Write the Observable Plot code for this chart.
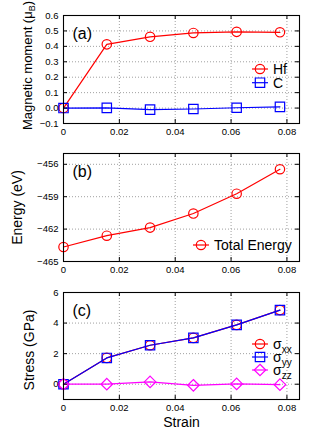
<!DOCTYPE html>
<html><head><meta charset="utf-8">
<script src="https://cdn.jsdelivr.net/npm/d3@7"></script>
<script src="https://cdn.jsdelivr.net/npm/@observablehq/plot@0.6"></script>
<style>
body{margin:0;background:#fff;}
#chart{width:316px;height:434px;overflow:hidden;}
#chart svg{display:block;}
</style></head><body><div id="chart"></div>
<script>
const strain = [0, 0.0155, 0.031, 0.0465, 0.062, 0.0775];
const momentHf = [0, 0.413, 0.462, 0.487, 0.494, 0.491];
const momentC = [0, 0.001, -0.01, -0.006, 0.002, 0.008];
const totalEnergy = [-463.66, -462.61, -461.86, -460.56, -458.72, -456.46];
const stressXX = [0, 1.72, 2.55, 3.03, 3.88, 4.85];
const stressYY = [0, 1.72, 2.55, 3.03, 3.88, 4.85];
const stressZZ = [0, 0, 0.15, -0.07, 0.02, -0.03];
const xTicks = [0, 0.02, 0.04, 0.06, 0.08];
const yTicksA = [-0.1, 0, 0.1, 0.2, 0.3, 0.4, 0.5, 0.6];
const yTicksB = [-465, -462, -459, -456];
const yTicksC = [0, 2, 4, 6];
const panelLabels = ["(a)", "(b)", "(c)"];
const yLabels = ["Magnetic moment (\u03bcB)", "Energy (eV)", "Stress (GPa)"];
const xLabel = "Strain";

const FONT = "'Liberation Sans', Arial, Helvetica, sans-serif";
const W = 316, ML = 63, MR = 17;
const FW = W - ML - MR;
const xFmt = d => d === 0 ? "0" : d.toFixed(2);

function rows(ys) { return strain.map((x, i) => ({x, y: ys[i]})); }

function series(ys, color, symbol, r) {
  return [
    Plot.line(rows(ys), {x: "x", y: "y", stroke: color, strokeWidth: 1.2}),
    Plot.dot(rows(ys), {x: "x", y: "y", stroke: color, fill: "none", strokeWidth: 1.2, symbol, r})
  ];
}

function panel({height, mt, mb, yDomain, yTicks, yFmt, marks, label, ylabel, ylFont, ylDx, ylDy, xlabel}) {
  const FH = height - mt - mb;
  const grid = {stroke: "#a0a0a0", strokeOpacity: 1, strokeDasharray: "1,2", strokeWidth: 1};
  const m = [
    Plot.gridX(xTicks, grid),
    Plot.gridY(yTicks, grid),
    ...marks,
    Plot.frame({stroke: "black", strokeWidth: 1.1}),
    Plot.tickX(xTicks, {insetTop: FH - 4, stroke: "black"}),
    Plot.tickX(xTicks, {insetBottom: FH - 4, stroke: "black"}),
    Plot.tickY(yTicks, {insetRight: FW - 4, stroke: "black"}),
    Plot.tickY(yTicks, {insetLeft: FW - 4, stroke: "black"}),
    Plot.axisX(xTicks, {tickSize: 0, tickPadding: 5, tickFormat: xFmt, label: null, fontSize: 9.5}),
    Plot.axisY(yTicks, {tickSize: 0, tickPadding: 5, tickFormat: yFmt, label: null, fontSize: 9.5}),
    Plot.text([label], {text: d => d, frameAnchor: "top-left", textAnchor: "start", lineAnchor: "middle", dx: 9, dy: 18, fontSize: 16}),
    Plot.text([ylabel], {text: d => d, frameAnchor: "left", rotate: -90, textAnchor: "middle", lineAnchor: "middle", dx: ylDx, dy: ylDy, fontSize: ylFont})
  ];
  if (xlabel) m.push(Plot.text([xlabel], {text: d => d, frameAnchor: "bottom", lineAnchor: "middle", dy: 23, fontSize: 14}));
  return Plot.plot({
    width: W, height,
    marginLeft: ML, marginRight: MR, marginTop: mt, marginBottom: mb,
    style: {fontFamily: FONT, color: "black", background: "white", overflow: "visible"},
    x: {domain: [0, 0.0845]},
    y: {domain: yDomain},
    marks: m
  });
}

function legend(svg, items, x0, y0, step) {
  const g = d3.select(svg).append("g").attr("font-family", FONT).attr("font-size", 14).attr("text-anchor", "start");
  items.forEach((it, i) => {
    const y = y0 + i * step;
    g.append("line").attr("x1", x0 - 8).attr("x2", x0 + 8).attr("y1", y).attr("y2", y)
      .attr("stroke", it.color).attr("stroke-width", 1.2);
    g.append("path").attr("transform", `translate(${x0},${y})`)
      .attr("d", d3.symbol(it.symbol, Math.PI * it.r * it.r)())
      .attr("fill", "none").attr("stroke", it.color).attr("stroke-width", 1.2);
    const t = g.append("text").attr("x", x0 + 13).attr("y", y + 5).attr("fill", "black").attr("text-anchor", "start");
    t.append("tspan").text(it.text);
    if (it.sub) t.append("tspan").attr("font-size", 10).attr("dy", 4).text(it.sub);
  });
}

const chart = document.getElementById("chart");

const pa = panel({
  height: 140, mt: 15, mb: 17, yDomain: [-0.1, 0.6], yTicks: yTicksA, yFmt: d3.format(".1f"),
  marks: [...series(momentHf, "red", "circle", 4.7), ...series(momentC, "blue", "square", 5.3)],
  label: panelLabels[0], ylabel: yLabels[0], ylFont: 13, ylDx: -36, ylDy: -4
});
// subscript B in the y label
d3.select(pa).selectAll("text").filter(function() { return this.textContent === yLabels[0]; })
  .each(function() {
    const t = d3.select(this); t.text(null);
    t.append("tspan").text("Magnetic moment (\u03bc");
    t.append("tspan").attr("font-size", 9).attr("dy", 3).text("B");
    t.append("tspan").attr("dy", -3).text(")");
  });
legend(pa, [
  {color: "red", symbol: d3.symbolCircle, r: 4.7, text: "Hf"},
  {color: "blue", symbol: d3.symbolSquare, r: 5.3, text: "C"}
], 260, 69, 13.7);
chart.appendChild(pa);

const pb = panel({
  height: 137, mt: 13, mb: 16, yDomain: [-465, -455], yTicks: yTicksB, yFmt: d3.format("d"),
  marks: [...series(totalEnergy, "red", "circle", 4.7)],
  label: panelLabels[1], ylabel: yLabels[1], ylFont: 14, ylDx: -45.8, ylDy: 0
});
legend(pb, [{color: "red", symbol: d3.symbolCircle, r: 4.7, text: "Total Energy"}], 201, 105, 0);
chart.appendChild(pb);

const pc = panel({
  height: 157, mt: 15, mb: 35, yDomain: [-1, 6], yTicks: yTicksC, yFmt: d3.format("d"),
  marks: [...series(stressXX, "red", "circle", 4.7), ...series(stressYY, "blue", "square", 5.3),
          ...series(stressZZ, "magenta", "diamond2", 5.2)],
  label: panelLabels[2], ylabel: yLabels[2], ylFont: 14, ylDx: -34.2, ylDy: 4, xlabel: xLabel
});
legend(pc, [
  {color: "red", symbol: d3.symbolCircle, r: 4.7, text: "\u03c3", sub: "xx"},
  {color: "blue", symbol: d3.symbolSquare, r: 5.3, text: "\u03c3", sub: "yy"},
  {color: "magenta", symbol: d3.symbolDiamond2, r: 5.2, text: "\u03c3", sub: "zz"}
], 260, 67, 13);
chart.appendChild(pc);
</script>
</body></html>
